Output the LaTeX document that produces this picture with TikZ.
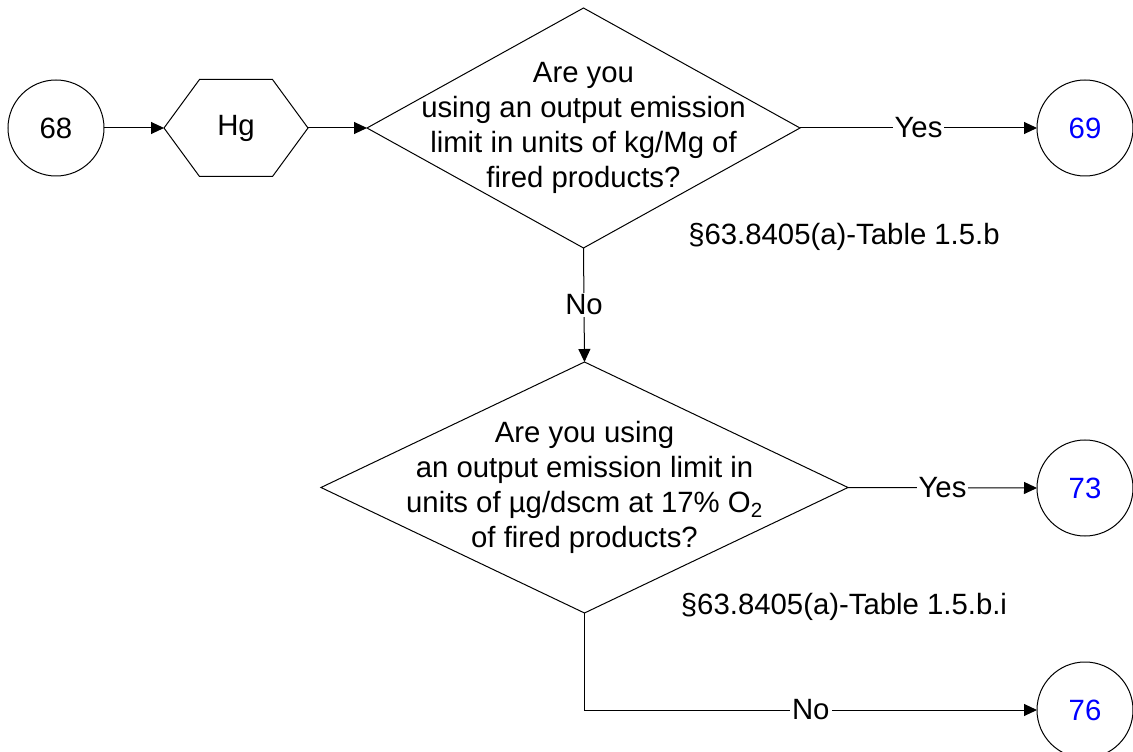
\documentclass[tikz,border=0pt]{standalone}
\usepackage{fontspec}
\setmainfont{Liberation Sans}
\usetikzlibrary{arrows.meta,shapes.geometric}
\definecolor{numblue}{RGB}{0,0,255}
\begin{document}
\begin{tikzpicture}[x=0.75pt,y=-0.75pt,
  every node/.style={font=\fontsize{22}{26.25}\selectfont},
  conn/.style={draw=black, line width=0.75pt, -{Triangle[length=9.75pt,width=9pt]}},
  plain/.style={draw=black, line width=0.75pt},
  term/.style={circle, draw=black, line width=0.75pt, minimum size=72pt, inner sep=0pt, outer sep=0pt},
  decision/.style={diamond, draw=black, line width=0.75pt, inner sep=0pt, outer sep=0pt},
  qtext/.style={align=center, inner sep=0pt},
  lbl/.style={fill=white, inner sep=1.5pt},
]
\useasboundingbox (0,0) rectangle (1133,752);

% terminals
\node[term] (c68) at (56,128) {68};
\node[term, text=numblue] (c69) at (1085,128) {69};
\node[term, text=numblue] (c73) at (1085,488) {73};
\node[term, text=numblue] (c76) at (1085,710) {76};

% hexagon
\node[minimum width=108pt, minimum height=72.75pt, inner sep=0pt, outer sep=0pt] (hg) at (236,128) {Hg};
\draw[plain] (hg.west) -- ++(35.5,-48.5) -- ++(73,0) -- (hg.east) -- ++(-35.5,48.5) -- ++(-73,0) -- cycle;

% decisions
\node[decision, minimum width=324.75pt, minimum height=180pt] (d1) at (583.5,128) {};
\node[qtext] at (d1.center) {Are you\\using an output emission\\limit in units of kg/Mg of\\fired products?};

\node[decision, minimum width=395.25pt, minimum height=188.25pt] (d2) at (584.5,487.5) {};
\node[qtext] at (d2.center) {Are you using\\an output emission limit in\\units of µg/dscm at 17\% O\textsubscript{2}\\of fired products?};

% references
\node (r1) at (844,237) {§63.8405(a)-Table 1.5.b};
\node (r2) at (844,607) {§63.8405(a)-Table 1.5.b.i};

% connectors
\draw[conn] (c68.east) -- (hg.west);
\draw[conn] (hg.east) -- (d1.west);
\draw[conn] (d1.east) -- node[lbl]{Yes} (c69.west);
\draw[conn] (d1.south) -- node[lbl]{No} (d2.north);
\draw[conn] (d2.east) -- node[lbl]{Yes} (c73.west);
\draw[conn] (d2.south) |- node[lbl, pos=0.75]{No} (c76.west);
\end{tikzpicture}
\end{document}
